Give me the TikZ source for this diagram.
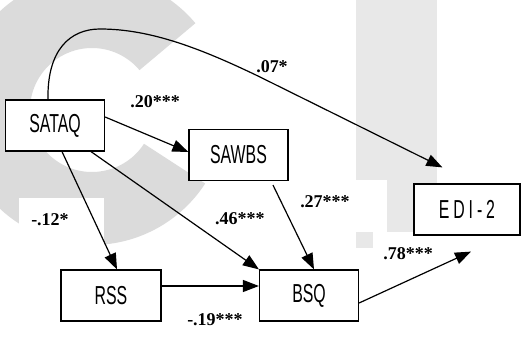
\documentclass[tikz,border=0pt]{standalone}
\usepackage{fontspec}
\setmainfont{Liberation Serif}
\newfontfamily\boxfont[FakeStretch=0.61]{Liberation Sans}
\usepackage{tikz}
\usetikzlibrary{positioning,arrows.meta,calc}

\begin{document}
\begin{tikzpicture}[
  x=0.5pt,y=0.5pt,
  line width=0.6pt,
  var/.style={draw,fill=white,minimum width=49.5pt,minimum height=25.5pt,
    inner sep=0pt,font=\boxfont\fontsize{13}{15}\selectfont},
  coef/.style={inner sep=0pt,font=\bfseries\fontsize{9}{10}\selectfont},
  arr/.style={-{Triangle[length=8pt,width=6pt]}},
  wm/.style={fill=black!14},
  wm light/.style={fill=black!9}
]

\useasboundingbox (0,0) rectangle (521,338);
\clip (0,0) rectangle (521,338);

% 背景の透かし
\fill[wm light] (356,106) rectangle (437,338);
\fill[wm light] (356,90) rectangle (373,106);
\fill[wm]
  ([shift={(40:67.5pt)}]92,228)
  arc[start angle=40,end angle=327,radius=67.5pt]
  -- ([shift={(327:31pt)}]92,228)
  arc[start angle=327,end angle=40,radius=31pt] -- cycle;

% 係数の下の白地
\fill[white] (19,88) rectangle (104,140);
\fill[white] (290,106) rectangle (387,158);

% 変数
\node[var] (sataq) at (55,212.5) {SATAQ};
\node[var] (sawbs) at (238.5,183) {SAWBS};
\node[var,minimum width=53pt] (edi) at (467,128.5)
  {\addfontfeature{LetterSpace=15}EDI-2};
\node[var,minimum width=50pt] (rss) at (111,42.5) {RSS};
\node[var] (bsq) at (309,42.5) {BSQ};

% 経路
\draw[arr] ([yshift=4.25pt]sataq.east) -- ([yshift=1.5pt]sawbs.west);
\draw[arr] ([xshift=3.5pt]sataq.south) -- ([xshift=3pt]rss.north);
\draw[arr] ([xshift=18pt]sataq.south) -- (bsq.north west);
\draw[arr] ([xshift=17.25pt,yshift=-2pt]sawbs.south) -- ([xshift=2.5pt]bsq.north);
\draw[arr] ([yshift=4.75pt]rss.east) -- ([yshift=4.75pt]bsq.west);

\coordinate (edi-in) at ($(edi.south)+(4,-16)$);
\draw[arr] ([yshift=-3.75pt]bsq.east) -- (edi-in);

% SATAQ から EDI-2 への直接効果
\coordinate (edi-top) at ($(edi.north west)+(29,16)$);
\draw[arr]
  ([xshift=-3.5pt]sataq.north)
  .. controls (47,288) and (70,309) .. (100,309)
  .. controls (150,309) and (200,290) .. (260,261)
  -- (edi-top);

% 係数
\node[coef] (c07) at (272,271) {.07*};
\node[coef] (c20) at (155,236) {.20***};
\node[coef] (c12) at (50,118) {-.12*};
\node[coef] (c46) at (240,119) {.46***};
\node[coef] (c27) at (325,136) {.27***};
\node[coef] (c78) at (408,84) {.78***};
\node[coef] (c19) at (215,18) {-.19***};

\end{tikzpicture}
\end{document}
